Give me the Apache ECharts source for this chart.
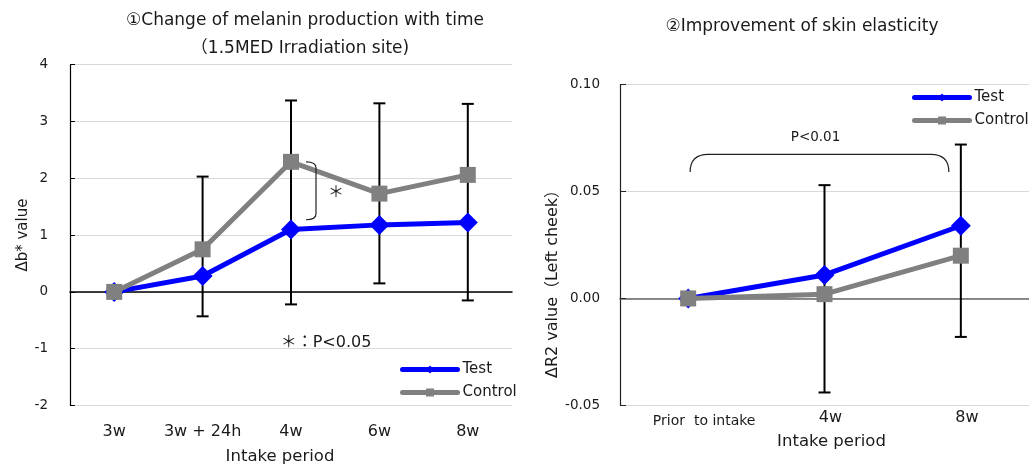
<!DOCTYPE html>
<html>
<head>
<meta charset="utf-8">
<script src="https://cdn.jsdelivr.net/npm/echarts@6/dist/echarts.min.js"></script>
<style>
  html, body { margin: 0; padding: 0; background: #fff; }
  #chart { width: 1029px; height: 470px; }
</style>
</head>
<body>
<div id="chart"></div>
<script>
// left panel: melanin (delta b*)
var cats1 = ["3w", "3w + 24h", "4w", "6w", "8w"];
var test1 = [0, 0.28, 1.10, 1.18, 1.22];
var control1 = [0, 0.75, 2.29, 1.73, 2.06];
var errLow1 = [null, -0.43, -0.22, 0.15, -0.15];
var errHigh1 = [null, 2.03, 3.37, 3.32, 3.31];
var sigBracket1 = [[2, 2.29, 1.27]];

// right panel: skin elasticity (delta R2)
var cats2 = ["Prior  to intake", "4w", "8w"];
var test2 = [0, 0.011, 0.034];
var control2 = [0, 0.002, 0.020];
var errLow2 = [null, -0.044, -0.018];
var errHigh2 = [null, 0.053, 0.072];
var sigBracket2 = [[0, 2, 0.0674, 0.0592]];

var FONT = "'DejaVu Sans', 'Noto Sans CJK JP', sans-serif";
var INK = "#1a1a1a";
var GRIDC = "#d9d9d9";

function errData(lo, hi) {
  var out = [];
  for (var i = 0; i < lo.length; i++) {
    if (lo[i] == null) continue;
    out.push([i, lo[i], hi[i]]);
  }
  return out;
}

function renderErr(params, api) {
  var i = api.value(0);
  var top = api.coord([i, api.value(2)]);
  var bot = api.coord([i, api.value(1)]);
  var w = 6;
  var st = { stroke: "#000", lineWidth: 2 };
  return {
    type: "group",
    children: [
      { type: "line", shape: { x1: top[0], y1: top[1], x2: bot[0], y2: bot[1] }, style: st },
      { type: "line", shape: { x1: top[0] - w, y1: top[1], x2: top[0] + w, y2: top[1] }, style: st },
      { type: "line", shape: { x1: bot[0] - w, y1: bot[1], x2: bot[0] + w, y2: bot[1] }, style: st }
    ]
  };
}

function renderBracket1(params, api) {
  var i = api.value(0);
  var t = api.coord([i, api.value(1)]);
  var b = api.coord([i, api.value(2)]);
  var x0 = t[0] + 15, x1 = x0 + 10;
  var yt = t[1], yb = b[1];
  return {
    type: "group",
    children: [
      { type: "path",
        shape: { pathData: "M" + x0 + " " + yt + " Q" + x1 + " " + yt + " " + x1 + " " + (yt + 6) +
                 " L" + x1 + " " + (yb - 6) + " Q" + x1 + " " + yb + " " + x0 + " " + yb },
        style: { stroke: "#222", lineWidth: 1.2, fill: null } },
      { type: "text", x: x1 + 20, y: (yt + yb) / 2,
        style: { text: "＊", font: "16px 'Noto Sans CJK JP'", fill: INK, align: "center", verticalAlign: "middle" } }
    ]
  };
}

function renderBracket2(params, api) {
  var l = api.coord([api.value(0), api.value(2)]);
  var r = api.coord([api.value(1), api.value(2)]);
  var b = api.coord([api.value(0), api.value(3)]);
  var xl = l[0] + 2, xr = r[0] - 12, yt = l[1], yb = b[1];
  return {
    type: "group",
    children: [
      { type: "path",
        shape: { pathData: "M" + xl + " " + yb + " Q" + xl + " " + yt + " " + (xl + 18) + " " + yt +
                 " L" + (xr - 18) + " " + yt + " Q" + xr + " " + yt + " " + xr + " " + yb },
        style: { stroke: "#222", lineWidth: 1.2, fill: null } },
      { type: "text", x: (xl + xr) / 2 - 4, y: yt - 17,
        style: { text: "P<0.01", font: "13.5px " + FONT, fill: INK, align: "center", verticalAlign: "middle" } }
    ]
  };
}

var chart = echarts.init(document.getElementById("chart"), null, { renderer: "canvas" });

var legendBase = {
  data: ["Test", "Control"], orient: "vertical", padding: 0,
  itemWidth: 55, itemHeight: 10, itemGap: 8, selectedMode: false,
  lineStyle: { width: 5, cap: "round" },
  textStyle: { fontSize: 15, color: INK, fontFamily: FONT }
};

chart.setOption({
  animation: false,
  backgroundColor: "#fff",
  textStyle: { fontFamily: FONT, color: INK },
  grid: [
    { left: 70, top: 64.7, width: 442, height: 346 },
    { left: 620, top: 84.7, width: 416, height: 320.6 }
  ],
  legend: [
    Object.assign({}, legendBase, { left: 400, top: 362 }),
    Object.assign({}, legendBase, { left: 912, top: 90 })
  ],
  xAxis: [
    { type: "category", gridIndex: 0, data: cats1,
      axisLine: { onZero: true, lineStyle: { color: "#000", width: 1.5 } },
      axisTick: { inside: true, length: 5, lineStyle: { color: "#000" } },
      axisLabel: { show: false }, splitLine: { show: false } },
    { type: "category", gridIndex: 0, data: cats1, position: "bottom",
      axisLine: { show: false, onZero: false }, axisTick: { show: false },
      axisLabel: { fontSize: 16, color: INK, margin: 18, interval: 0, hideOverlap: false },
      name: "Intake period", nameLocation: "middle", nameGap: 43,
      nameTextStyle: { fontSize: 16.5, color: INK, padding: [0, 22, 0, 0] } },
    { type: "category", gridIndex: 1, data: cats2,
      axisLine: { onZero: true, lineStyle: { color: "#666", width: 1.5 } },
      axisTick: { inside: true, length: 6, lineStyle: { color: "#444" } },
      axisLabel: { show: false }, splitLine: { show: false } },
    { type: "category", gridIndex: 1, data: cats2, position: "bottom",
      axisLine: { show: false, onZero: false }, axisTick: { show: false },
      axisLabel: {
        color: INK, margin: 5, interval: 0, hideOverlap: false,
        formatter: function (v, i) { return i === 0 ? "{p|" + v + "}" : "{w|" + v + "}"; },
        rich: {
          p: { fontSize: 14, fontFamily: FONT, color: INK, padding: [4, 0, 0, 32] },
          w: { fontSize: 16, fontFamily: FONT, color: INK, padding: [0, 0, 0, 12] }
        }
      },
      name: "Intake period", nameLocation: "middle", nameGap: 24,
      nameTextStyle: { fontSize: 16.5, color: INK, padding: [0, 0, 0, 14] } }
  ],
  yAxis: [
    { type: "value", gridIndex: 0, min: -2, max: 4, interval: 1,
      axisLine: { show: true, lineStyle: { color: "#000", width: 1.2 } },
      axisTick: { show: true, inside: true, length: 5, lineStyle: { color: "#000" } },
      axisLabel: { fontSize: 13.5, color: INK, margin: 22 },
      splitLine: { lineStyle: { color: GRIDC, width: 1.2 } },
      name: "Δb* value", nameLocation: "middle", nameGap: 38,
      nameTextStyle: { fontSize: 15, color: INK } },
    { type: "value", gridIndex: 1, min: -0.05, max: 0.10, interval: 0.05,
      axisLine: { show: true, lineStyle: { color: "#222", width: 1.2 } },
      axisTick: { show: true, inside: true, length: 6, lineStyle: { color: "#222" } },
      axisLabel: { fontSize: 13.5, color: INK, margin: 20,
        formatter: function (v) { return v.toFixed(2); } },
      splitLine: { lineStyle: { color: GRIDC, width: 1.2 } },
      name: "ΔR2 value（Left cheek）", nameLocation: "middle", nameGap: 56,
      nameTextStyle: { fontSize: 16, color: INK, padding: [0, 70, 0, 0] } }
  ],
  series: [
    { type: "custom", name: "err1", xAxisIndex: 0, yAxisIndex: 0, z: 1,
      renderItem: renderErr, data: errData(errLow1, errHigh1), encode: { x: 0, y: [1, 2] } },
    { type: "line", name: "Test", xAxisIndex: 0, yAxisIndex: 0, data: test1, z: 3,
      symbol: "diamond", symbolSize: 20,
      lineStyle: { color: "#0000ff", width: 5 }, itemStyle: { color: "#0000ff" } },
    { type: "line", name: "Control", xAxisIndex: 0, yAxisIndex: 0, data: control1, z: 4,
      symbol: "rect", symbolSize: 16,
      lineStyle: { color: "#808080", width: 5 }, itemStyle: { color: "#808080" } },
    { type: "custom", name: "sig1", xAxisIndex: 0, yAxisIndex: 0, z: 5, clip: false,
      renderItem: renderBracket1, data: sigBracket1, encode: { x: 0, y: [1, 2] } },

    { type: "custom", name: "err2", xAxisIndex: 2, yAxisIndex: 1, z: 1,
      renderItem: renderErr, data: errData(errLow2, errHigh2), encode: { x: 0, y: [1, 2] } },
    { type: "line", name: "Test", xAxisIndex: 2, yAxisIndex: 1, data: test2, z: 3,
      symbol: "diamond", symbolSize: 20,
      lineStyle: { color: "#0000ff", width: 5 }, itemStyle: { color: "#0000ff" } },
    { type: "line", name: "Control", xAxisIndex: 2, yAxisIndex: 1, data: control2, z: 4,
      symbol: "rect", symbolSize: 16,
      lineStyle: { color: "#808080", width: 5 }, itemStyle: { color: "#808080" } },
    { type: "custom", name: "sig2", xAxisIndex: 2, yAxisIndex: 1, z: 5, clip: false,
      renderItem: renderBracket2, data: sigBracket2, encode: { x: [0, 1], y: [2, 3] } }
  ],
  graphic: [
    { type: "text", x: 305, y: 21,
      style: { text: "①Change of melanin production with time", font: "17px " + FONT, fill: INK,
               align: "center", verticalAlign: "middle" } },
    { type: "text", x: 300, y: 49,
      style: { text: "（1.5MED Irradiation site)", font: "17px " + FONT, fill: INK,
               align: "center", verticalAlign: "middle" } },
    { type: "text", x: 326, y: 343,
      style: { text: "＊：P<0.05", font: "16px " + FONT, fill: INK,
               align: "center", verticalAlign: "middle" } },
    { type: "text", x: 802, y: 27,
      style: { text: "②Improvement of skin elasticity", font: "17px " + FONT, fill: INK,
               align: "center", verticalAlign: "middle" } }
  ]
});
</script>
</body>
</html>
